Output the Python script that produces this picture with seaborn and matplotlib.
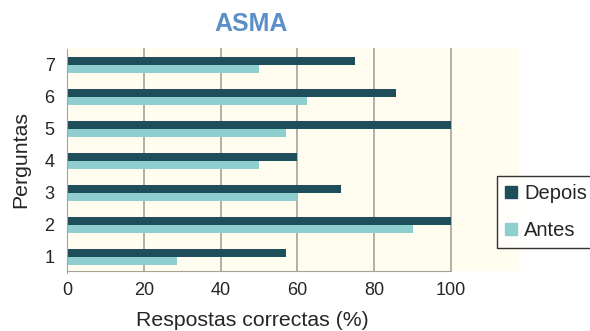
import matplotlib
matplotlib.use("Agg")
import matplotlib.pyplot as plt
import matplotlib.patches as mpatches
import seaborn as sns
import pandas as pd

perguntas = ["7", "6", "5", "4", "3", "2", "1"]
depois = [75, 85.7, 100, 60, 71.4, 100, 57.1]
antes = [50, 62.5, 57.1, 50, 60, 90, 28.6]
series = ["Depois", "Antes"]
xticks = [0, 20, 40, 60, 80, 100]

df = pd.DataFrame({
    "Perguntas": perguntas * 2,
    "valor": depois + antes,
    "serie": [series[0]] * len(perguntas) + [series[1]] * len(perguntas),
})

sns.set_style("white")
plt.rcParams["font.family"] = ["Liberation Sans", "DejaVu Sans"]

dark = "#1d4e5a"
light = "#8fcfcf"
cream = "#fffdf0"

fig = plt.figure(figsize=(5.9, 3.31), dpi=100)
ax = fig.add_axes([67 / 590, 1 - 271 / 331, (519 - 67) / 590, (271 - 48) / 331])
ax.set_facecolor(cream)

sns.barplot(data=df, y="Perguntas", x="valor", hue="serie", order=perguntas,
            hue_order=series, palette=[dark, light], orient="h", width=0.5,
            saturation=1, ax=ax, legend=False, edgecolor="none")

xmax = (519 - 67) / 3.84
ax.set_xlim(0, xmax)
ax.set_ylim(6.5 + (271 - 273) / 32.3, -0.5 - (49 - 48) / 32.3)
ax.set_xticks(xticks)
ax.set_xticklabels([str(t) for t in xticks], fontsize=13)
ax.tick_params(axis="y", labelsize=13, length=0, pad=9)
ax.tick_params(axis="x", length=0, pad=8)
for t in xticks[1:]:
    ax.axvline(t, color="#a8a298", lw=1.2, zorder=0.5)
for s in ["top", "right"]:
    ax.spines[s].set_visible(False)
ax.spines["left"].set_color("#a8a298")
ax.spines["bottom"].set_color("#a8a298")
ax.spines["bottom"].set_bounds(0, 100)
ax.spines["left"].set_bounds(6.5, -0.5)

ax.set_xlabel("Respostas correctas (%)", fontsize=15.3)
ax.xaxis.label.set_verticalalignment("center")
ax.xaxis.set_label_coords((252 - 67) / 452, (271 - 320) / 223)
ax.set_ylabel("Perguntas", fontsize=15.3)
ax.yaxis.label.set_verticalalignment("center")
ax.yaxis.set_label_coords((21 - 67) / 452, (271 - 160) / 223)

fig.text(251 / 590, 1 - 24 / 331, "ASMA", fontsize=18, fontweight="bold",
         color="#5b8fc7", ha="center", va="center")

handles = [mpatches.Patch(color=dark, label=series[0]),
           mpatches.Patch(color=light, label=series[1])]
leg = fig.legend(handles=handles, loc="upper left",
                 bbox_to_anchor=(497 / 590, 1 - 176 / 331), fontsize=14.5,
                 frameon=True, fancybox=False, edgecolor="black",
                 handlelength=0.6, handleheight=0.6, handletextpad=0.35,
                 labelspacing=0.9, borderpad=0.4, borderaxespad=0)
leg.get_frame().set_linewidth(1.0)
leg.get_frame().set_facecolor("white")

fig.savefig("out.png", dpi=100)
